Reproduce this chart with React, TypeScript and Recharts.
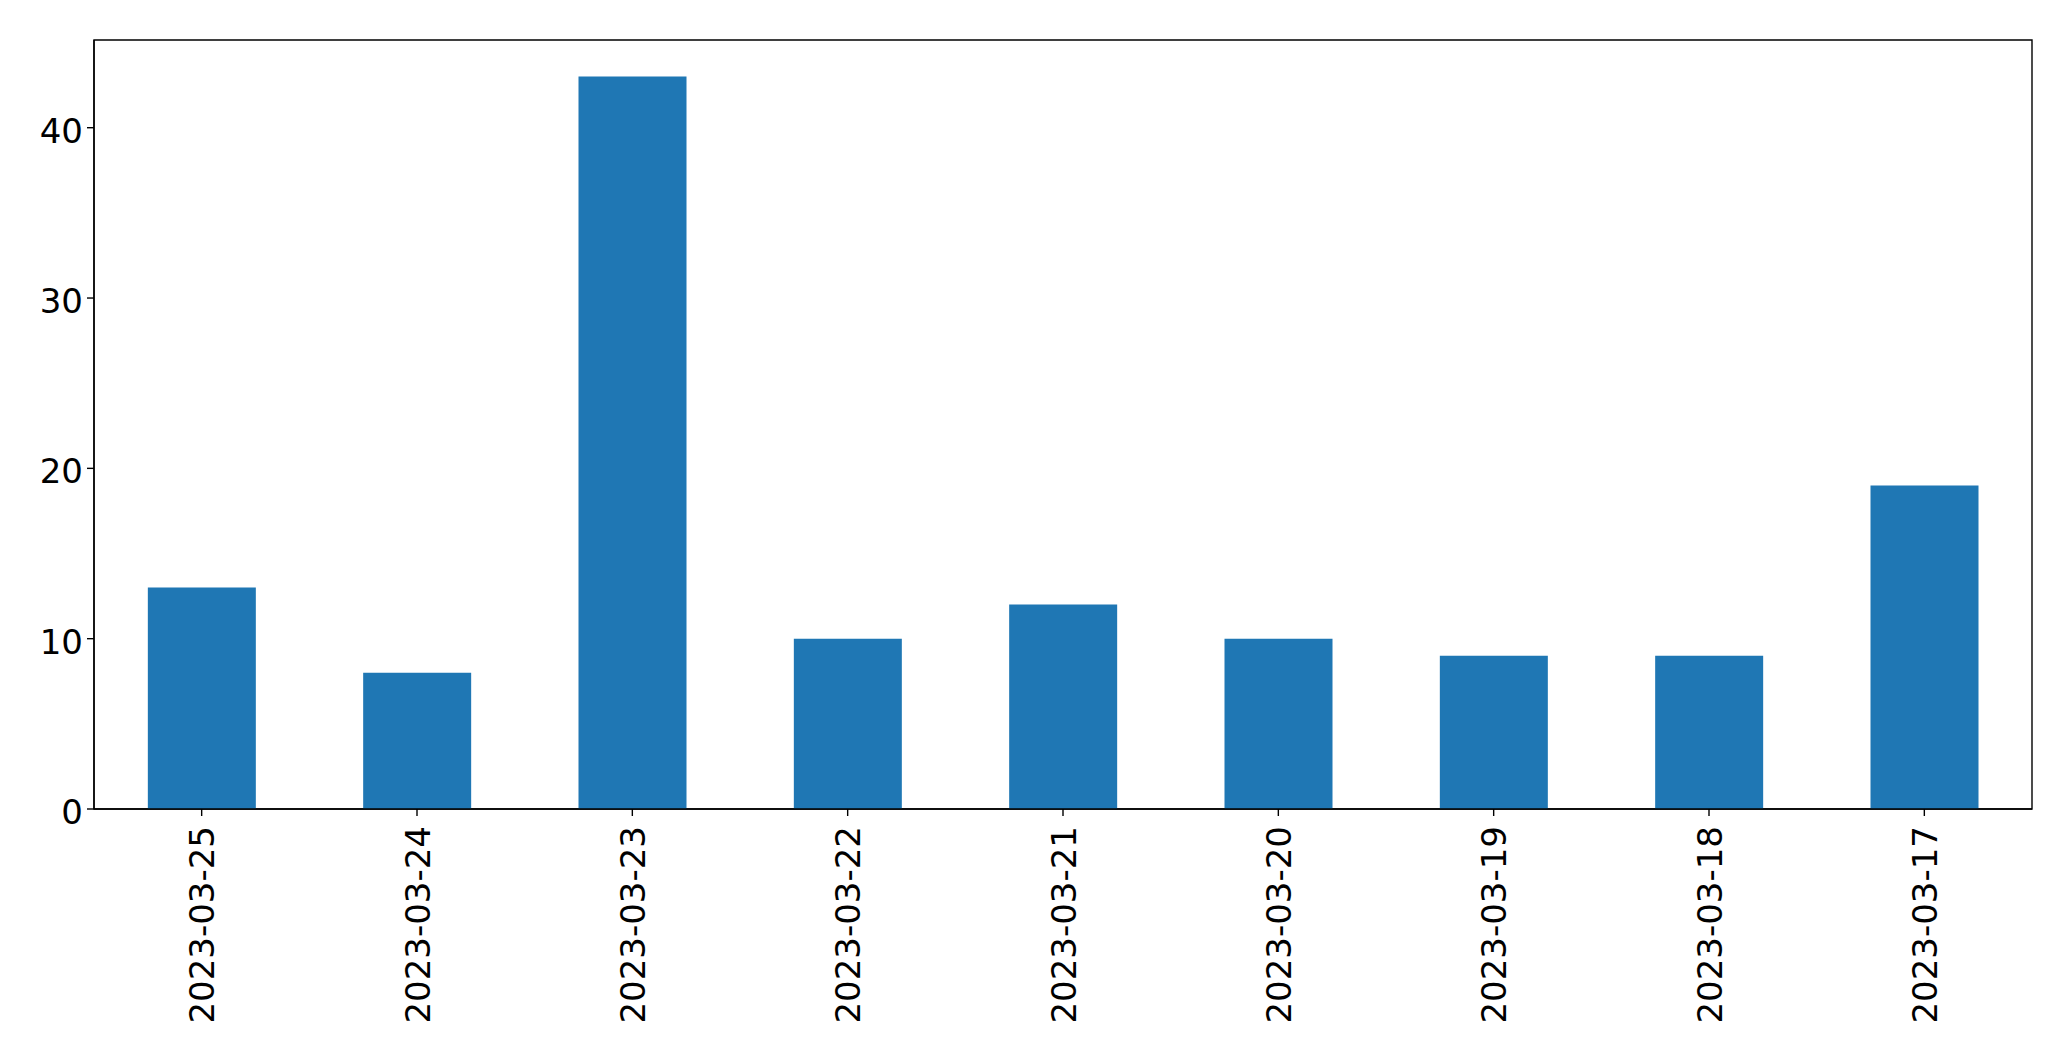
import React from 'react';
import { BarChart, Bar, XAxis, YAxis, ReferenceArea } from 'recharts';

const categories = ['2023-03-25', '2023-03-24', '2023-03-23', '2023-03-22', '2023-03-21', '2023-03-20', '2023-03-19', '2023-03-18', '2023-03-17'];
const counts = [13, 8, 43, 10, 12, 10, 9, 9, 19];
const yTicks = [0, 10, 20, 30, 40];
const yMax = 45.15;

const data = categories.map((c, i) => ({ date: c, count: counts[i] }));

const FONT = 'DejaVu Sans, sans-serif';
const FS = 34;
const LW = 1.4;

const XTick = (props: any) => {
  const { x, y, payload } = props;
  const ax = x + 12.5;
  const ay = y + 8;
  return (
    <text
      x={ax}
      y={ay}
      transform={`rotate(-90, ${ax}, ${ay})`}
      textAnchor="end"
      fontFamily={FONT}
      fontSize={FS}
      fill="#000"
    >
      {payload.value}
    </text>
  );
};

const YTick = (props: any) => {
  const { x, y, payload } = props;
  return (
    <text x={x} y={y + 15} textAnchor="end" fontFamily={FONT} fontSize={FS} fill="#000">
      {payload.value}
    </text>
  );
};

export default function App() {
  return (
    <div style={{ position: 'absolute', left: 0, top: 0, width: 2071, height: 1061, background: '#fff' }}>
      <BarChart
        width={2071}
        height={1061}
        data={data}
        margin={{ top: 40, right: 39, bottom: 0, left: 0 }}
        barCategoryGap="25%"
      >
        <XAxis
          dataKey="date"
          height={252}
          interval={0}
          tickSize={7}
          stroke="#000"
          tickLine={{ stroke: '#000', strokeWidth: LW }}
          axisLine={{ stroke: '#000', strokeWidth: LW }}
          tick={<XTick />}
        />
        <YAxis
          width={94}
          domain={[0, yMax]}
          ticks={yTicks}
          tickSize={7}
          tickMargin={4}
          stroke="#000"
          tickLine={{ stroke: '#000', strokeWidth: LW }}
          axisLine={{ stroke: '#000', strokeWidth: LW }}
          tick={<YTick />}
          allowDataOverflow
        />
        <Bar dataKey="count" fill="#1f77b4" isAnimationActive={false} />
        <ReferenceArea y1={0} y2={yMax} fill="none" fillOpacity={0} stroke="#000" strokeWidth={LW} ifOverflow="visible" />
      </BarChart>
    </div>
  );
}
